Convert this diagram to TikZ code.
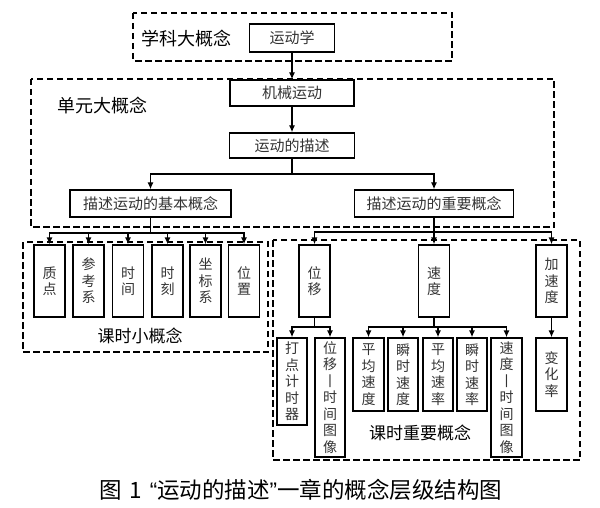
\documentclass[tikz,border=0pt]{standalone}
\usepackage{fontspec}
\setmainfont{Noto Sans CJK SC}
\newfontfamily\latinfont{Liberation Sans}
\usetikzlibrary{arrows.meta}
\begin{document}
\begin{tikzpicture}[x=1pt,y=-1pt,line width=1.3pt,>={Latex[length=7pt,width=6pt]},
    box/.style={draw,line width=1.3pt,inner sep=0pt,text=black!80,font=\fontsize{15}{17}\selectfont},
    vbox/.style={box,minimum width=31pt,align=center,font=\fontsize{14}{16.5}\selectfont},
    zone/.style={draw,line width=2.5pt,dash pattern=on 6.5pt off 3.5pt},
    lab/.style={font=\fontsize{18}{20}\selectfont}]
    \useasboundingbox (0,0) rectangle (600,508);
    % dashed zones
    \draw[zone] (133,13) rectangle (452,61);
    \draw[zone] (31,79) rectangle (554,227);
    \draw[zone] (23,242) rectangle (268,352);
    \draw[zone] (273,240) rectangle (580,460);
    \node[lab] (xueke) at (186,39) {学科大概念};
    \node[lab] (danyuan) at (102,106) {单元大概念};
    \node[lab,font=\fontsize{17}{19}\selectfont] (keshi) at (140,336) {课时小概念};
    \node[lab,font=\fontsize{17}{19}\selectfont] (keshizy) at (420,433) {课时重要概念};
    % upper levels
    \node[box,minimum width=85pt,minimum height=28pt] (ydx) at (292,38) {运动学};
    \node[box,minimum width=124pt,minimum height=26pt] (jixie) at (292,93) {机械运动};
    \node[box,minimum width=125pt,minimum height=25pt] (miaoshu) at (292,145.5) {运动的描述};
    \node[box,minimum width=161pt,minimum height=27pt] (jiben) at (150.5,203.5) {描述运动的基本概念};
    \node[box,minimum width=159pt,minimum height=27pt] (zhongyao) at (434,203.5) {描述运动的重要概念};
    \draw[->] (ydx) -- (jixie);
    \draw[->] (jixie) -- (miaoshu);
    \coordinate (s1) at (292,174);
    \draw (miaoshu) -- (s1);
    \draw[->] (s1) -| (jiben);
    \draw[->] (s1) -| (zhongyao);
    % basic concepts
    \node[vbox,minimum height=72pt] (zhidian) at (49.5,281) {质\\点};
    \node[vbox,minimum height=72pt] (cankao) at (88.5,281) {参\\考\\系};
    \node[vbox,minimum height=72pt] (shijian) at (128,281) {时\\间};
    \node[vbox,minimum height=72pt] (shike) at (167.5,281) {时\\刻};
    \node[vbox,minimum height=72pt] (zuobiao) at (205.5,281) {坐\\标\\系};
    \node[vbox,minimum height=72pt] (weizhi) at (244,281) {位\\置};
    \coordinate (s2) at (150.5,233);
    \draw (jiben) -- (s2);
    \foreach \n in {zhidian,cankao,shijian,shike,zuobiao,weizhi}
        \draw[->] (s2) -| (\n);
    % important concepts
    \node[vbox,minimum height=72pt] (weiyi) at (314.5,281) {位\\移};
    \node[vbox,minimum height=72pt] (sudu) at (434,281) {速\\度};
    \node[vbox,minimum height=72pt] (jiasudu) at (551.5,281) {加\\速\\度};
    \coordinate (s3) at (434,232);
    \draw (zhongyao) -- (s3);
    \foreach \n in {weiyi,sudu,jiasudu}
        \draw[->] (s3) -| (\n);
    \node[vbox,minimum width=30pt,minimum height=87pt] (dadian) at (292,381.5) {打\\点\\计\\时\\器};
    \node[vbox,minimum width=30pt,minimum height=119pt] (weiyitu) at (330,397.5) {位\\移\\丨\\时\\间\\图\\像};
    \coordinate (s4) at (314.5,327);
    \draw (weiyi) -- (s4);
    \draw[->] (s4) -| (dadian);
    \draw[->] (s4) -| (weiyitu);
    \node[vbox,minimum height=73pt] (pjsd) at (368.5,374.5) {平\\均\\速\\度};
    \node[vbox,minimum width=30pt,minimum height=73pt] (ssd) at (403,374.5) {瞬\\时\\速\\度};
    \node[vbox,minimum width=30pt,minimum height=73pt] (pjsl) at (438,374.5) {平\\均\\速\\率};
    \node[vbox,minimum width=30pt,minimum height=73pt] (ssl) at (472,374.5) {瞬\\时\\速\\率};
    \node[vbox,minimum height=119pt] (sudutu) at (506.5,397.5) {速\\度\\丨\\时\\间\\图\\像};
    \coordinate (s5) at (434,327);
    \draw (sudu) -- (s5);
    \foreach \n in {pjsd,ssd,pjsl,ssl,sudutu}
        \draw[->] (s5) -| (\n);
    \node[vbox,minimum height=73pt] (bianhua) at (551.5,374.5) {变\\化\\率};
    \draw[->] (jiasudu) -- (bianhua);
    % caption
    \node[font=\fontsize{22.5}{24}\selectfont] (tu) at (301,490) {图\hspace{7pt}1\hspace{8pt}{\latinfont “}运动的描述{\latinfont ”}一章的概念层级结构图};
\end{tikzpicture}
\end{document}
